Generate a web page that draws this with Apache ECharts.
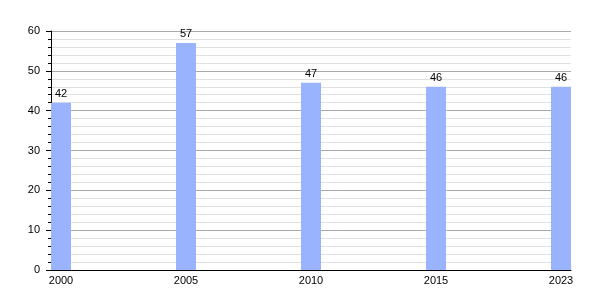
<!DOCTYPE html>
<html><head><meta charset="utf-8">
<script src="https://cdn.jsdelivr.net/npm/echarts@6/dist/echarts.min.js"></script>
<style>html,body{margin:0;padding:0;background:#fff}#c{width:600px;height:300px}</style>
</head><body><div id="c"></div>
<script>
const years = ['2000', '2005', '2010', '2015', '2023'];
const values = [42, 57, 47, 46, 46];

const chart = echarts.init(document.getElementById('c'), null, {renderer: 'canvas'});
const positions = years.map((y, i) => i);
chart.setOption({
  animation: false,
  grid: {left: 51, right: 29, top: 31, bottom: 30},
  xAxis: {
    type: 'value', min: -0.08, max: 4.08,
    axisLine: {show: true, onZero: false, lineStyle: {color: '#000', width: 1}},
    axisTick: {show: false},
    splitLine: {show: false},
    axisLabel: {
      customValues: positions,
      formatter: v => years[Math.round(v)],
      color: '#000', fontSize: 11, fontFamily: 'Liberation Sans, Arial, sans-serif', margin: 5
    }
  },
  yAxis: {
    type: 'value', min: 0, max: 60, interval: 10,
    axisLine: {show: true, onZero: false, lineStyle: {color: '#000', width: 1}},
    axisTick: {show: true, length: 5, lineStyle: {color: '#000'}},
    minorTick: {show: true, splitNumber: 5, length: 3, lineStyle: {color: '#000'}},
    splitLine: {show: true, lineStyle: {color: '#aaa', width: 1}},
    minorSplitLine: {show: true, lineStyle: {color: '#e0e0e0', width: 1}},
    axisLabel: {
      color: '#000', fontSize: 11, fontFamily: 'Liberation Sans, Arial, sans-serif', margin: 11
    }
  },
  series: [{
    type: 'bar',
    data: values.map((v, i) => [positions[i], v]),
    barWidth: 20,
    itemStyle: {color: '#99b3ff'},
    label: {show: true, position: 'top', distance: 3, color: '#000', fontSize: 11,
      fontFamily: 'Liberation Sans, Arial, sans-serif', formatter: p => p.value[1]}
  }]
});
</script></body></html>
